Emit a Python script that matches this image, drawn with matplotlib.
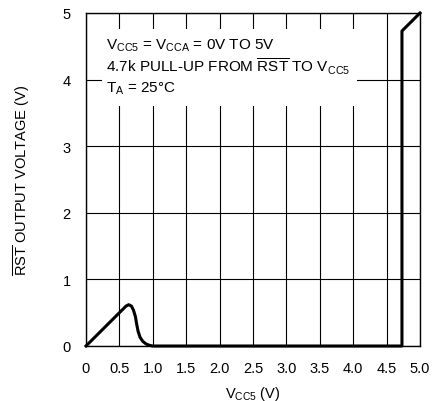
import matplotlib.pyplot as plt
from matplotlib.patches import Rectangle

plt.rcParams['font.family'] = ['Liberation Sans', 'DejaVu Sans']
plt.rcParams['mathtext.fontset'] = 'custom'
plt.rcParams['mathtext.rm'] = 'Liberation Sans'
plt.rcParams['mathtext.it'] = 'Liberation Sans'
plt.rcParams['mathtext.bf'] = 'Liberation Sans'

# RST output vs VCC5
vcc5 = [0, 0.55, 0.6, 0.64, 0.68, 0.71, 0.74, 0.76, 0.78, 0.81, 0.85,
        0.90, 0.95, 1.0, 4.73, 4.73, 5.0]
v_rst = [0, 0.55, 0.60, 0.62, 0.60, 0.54, 0.44, 0.32, 0.22, 0.13, 0.07,
         0.03, 0.01, 0.0, 0.0, 4.73, 5.0]

x_ticks = [0, 0.5, 1.0, 1.5, 2.0, 2.5, 3.0, 3.5, 4.0, 4.5, 5.0]
x_labels = ['0', '0.5', '1.0', '1.5', '2.0', '2.5', '3.0', '3.5', '4.0', '4.5', '5.0']
y_ticks = [0, 1, 2, 3, 4, 5]

fig = plt.figure(figsize=(4.33, 4.02), dpi=100)
ax = fig.add_axes([86 / 433, 55 / 402, 334 / 433, 333 / 402])

ax.set_axisbelow(True)
ax.grid(True, color='black', linewidth=0.8)
ax.plot(vcc5, v_rst, color='black', linewidth=2.2, zorder=3,
        solid_joinstyle='round', clip_on=False)

# white box behind the conditions text
ax.add_patch(Rectangle((0.24, 3.6), 3.82, 1.16, facecolor='white',
                       edgecolor='none', zorder=1))

fs = 11
ax.text(0.3, 4.52, r'V$_{\mathrm{CC5}}$ = V$_{\mathrm{CCA}}$ = 0V TO 5V',
        fontsize=fs, zorder=2, va='center')
ax.text(0.3, 4.21, r'4.7k PULL-UP FROM $\overline{\mathrm{RST}}$ TO V$_{\mathrm{CC5}}$',
        fontsize=fs, zorder=2, va='center')
ax.text(0.3, 3.87, r'T$_{\mathrm{A}}$ = 25°C', fontsize=fs, zorder=2, va='center')

ax.set_xlim(0, 5)
ax.set_ylim(0, 5)
ax.set_xticks(x_ticks)
ax.set_xticklabels(x_labels)
ax.set_yticks(y_ticks)
ax.tick_params(length=0, labelsize=10.5, pad=11)
for s in ax.spines.values():
    s.set_linewidth(1.0)

ax.set_xlabel(r'V$_{\mathrm{CC5}}$ (V)', fontsize=10.5, labelpad=6)
ax.set_ylabel(r'$\overline{\mathrm{RST}}$ OUTPUT VOLTAGE (V)', fontsize=10.5, labelpad=22)

fig.savefig('out.png', dpi=100)
